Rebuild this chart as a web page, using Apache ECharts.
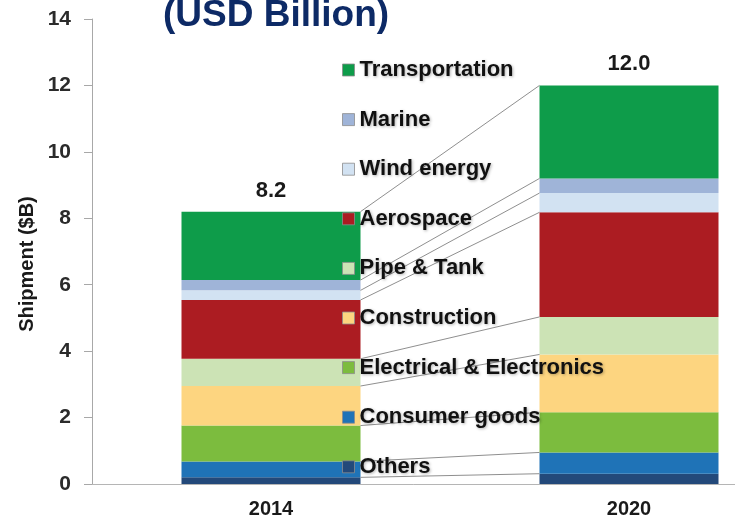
<!DOCTYPE html>
<html>
<head>
<meta charset="utf-8">
<script src="https://cdn.jsdelivr.net/npm/echarts@6/dist/echarts.min.js"></script>
<style>
  html, body { margin: 0; padding: 0; background: #ffffff; }
  #chart { width: 735px; height: 521px; }
</style>
</head>
<body>
<div id="chart"></div>
<script>
// Composite shipments by end-use market, stacked from the bottom up
const CATEGORIES = ['2014', '2020'];
const SEGMENTS = [
  'Others', 'Consumer goods', 'Electrical & Electronics', 'Construction',
  'Pipe & Tank', 'Aerospace', 'Wind energy', 'Marine', 'Transportation'
];
const VALUES_2014 = [0.20, 0.48, 1.08, 1.19, 0.82, 1.77, 0.29, 0.31, 2.06];
const VALUES_2020 = [0.31, 0.64, 1.21, 1.74, 1.13, 3.15, 0.58, 0.44, 2.80];
const Y_MIN = 0, Y_MAX = 14, Y_STEP = 2;

const COLORS = [
  '#23497a', '#1f73b7', '#7cbc3e', '#fdd580',
  '#cce3b5', '#ac1c22', '#d2e2f2', '#9fb4d8', '#0e9c4a'
];
const FONT = '"Liberation Sans", Arial, sans-serif';
const BAR_W = 179;

const seriesValues = [VALUES_2014, VALUES_2020];
const totals = seriesValues.map(arr => arr.reduce((s, v) => s + v, 0));

// running totals at each segment boundary, for the series lines between bars
function cumulative(arr) {
  const out = [];
  let s = 0;
  arr.forEach(v => { s += v; out.push(s); });
  return out;
}
const cum14 = cumulative(VALUES_2014);
const cum20 = cumulative(VALUES_2020);
const connectorData = cum14.map((c, i) => [0, c, cum20[i]]);

const barSeries = SEGMENTS.map((name, i) => {
  const s = {
    type: 'bar',
    name: name,
    stack: 'total',
    barWidth: BAR_W,
    data: [VALUES_2014[i], VALUES_2020[i]],
    itemStyle: { color: COLORS[i] },
    emphasis: { disabled: true },
    z: 2
  };
  if (i === SEGMENTS.length - 1) {
    s.label = {
      show: true,
      position: 'top',
      distance: 10,
      formatter: p => totals[p.dataIndex].toFixed(1),
      fontFamily: FONT,
      fontSize: 22,
      fontWeight: 'bold',
      color: '#1a1a1a'
    };
  }
  return s;
});

const connectorSeries = {
  type: 'custom',
  name: 'series-lines',
  data: connectorData,
  encode: { x: 0, y: [1, 2] },
  silent: true,
  z: 3,
  renderItem: function (params, api) {
    const a = api.coord([0, api.value(1)]);
    const b = api.coord([1, api.value(2)]);
    return {
      type: 'line',
      shape: { x1: a[0] + BAR_W / 2, y1: a[1], x2: b[0] - BAR_W / 2, y2: b[1] },
      style: { stroke: '#8f8f8f', lineWidth: 1 }
    };
  }
};

const chart = echarts.init(document.getElementById('chart'), null, { renderer: 'canvas' });

chart.setOption({
  animation: false,
  backgroundColor: '#ffffff',
  title: {
    text: '(USD Billion)',
    left: 163,
    top: -3,
    padding: 0,
    textStyle: { color: '#0d2a66', fontSize: 37, fontWeight: 'bold', fontFamily: FONT }
  },
  grid: {
    left: 92,
    top: 19,
    width: 716,
    height: 465,
    containLabel: false,
    outerBoundsMode: 'none'
  },
  legend: {
    data: SEGMENTS.slice().reverse(),
    orient: 'vertical',
    left: 342,
    top: 59,
    padding: 0,
    itemGap: 27.6,
    itemWidth: 12,
    itemHeight: 12,
    icon: 'rect',
    selectedMode: false,
    itemStyle: { borderColor: 'rgba(140,140,140,0.8)', borderWidth: 1 },
    textStyle: {
      fontFamily: FONT,
      fontSize: 22,
      lineHeight: 22,
      fontWeight: 'bold',
      color: '#111111',
      textShadowColor: 'rgba(0,0,0,0.3)',
      textShadowBlur: 3,
      textShadowOffsetX: 1,
      textShadowOffsetY: 1
    }
  },
  xAxis: {
    type: 'category',
    data: CATEGORIES,
    axisLine: { show: true, lineStyle: { color: '#b5b5b5', width: 1 } },
    axisTick: { show: false },
    axisLabel: {
      margin: 15,
      fontFamily: FONT,
      fontSize: 20,
      fontWeight: 'bold',
      color: '#1a1a1a'
    }
  },
  yAxis: {
    type: 'value',
    min: Y_MIN,
    max: Y_MAX,
    interval: Y_STEP,
    splitLine: { show: false },
    axisLine: { show: true, lineStyle: { color: '#a8a8a8', width: 1 } },
    axisTick: { show: true, inside: false, length: 8, lineStyle: { color: '#a8a8a8' } },
    axisLabel: {
      margin: 21,
      fontFamily: FONT,
      fontSize: 21,
      fontWeight: 'bold',
      color: '#2b2b2b'
    }
  },
  graphic: [{
    type: 'text',
    x: 27,
    y: 264,
    rotation: Math.PI / 2,
    style: {
      text: 'Shipment ($B)',
      x: 0,
      y: 0,
      align: 'center',
      verticalAlign: 'middle',
      font: 'bold 20px "Liberation Sans", Arial, sans-serif',
      fill: '#1a1a1a'
    }
  }],
  series: barSeries.concat([connectorSeries])
});
</script>
</body>
</html>
